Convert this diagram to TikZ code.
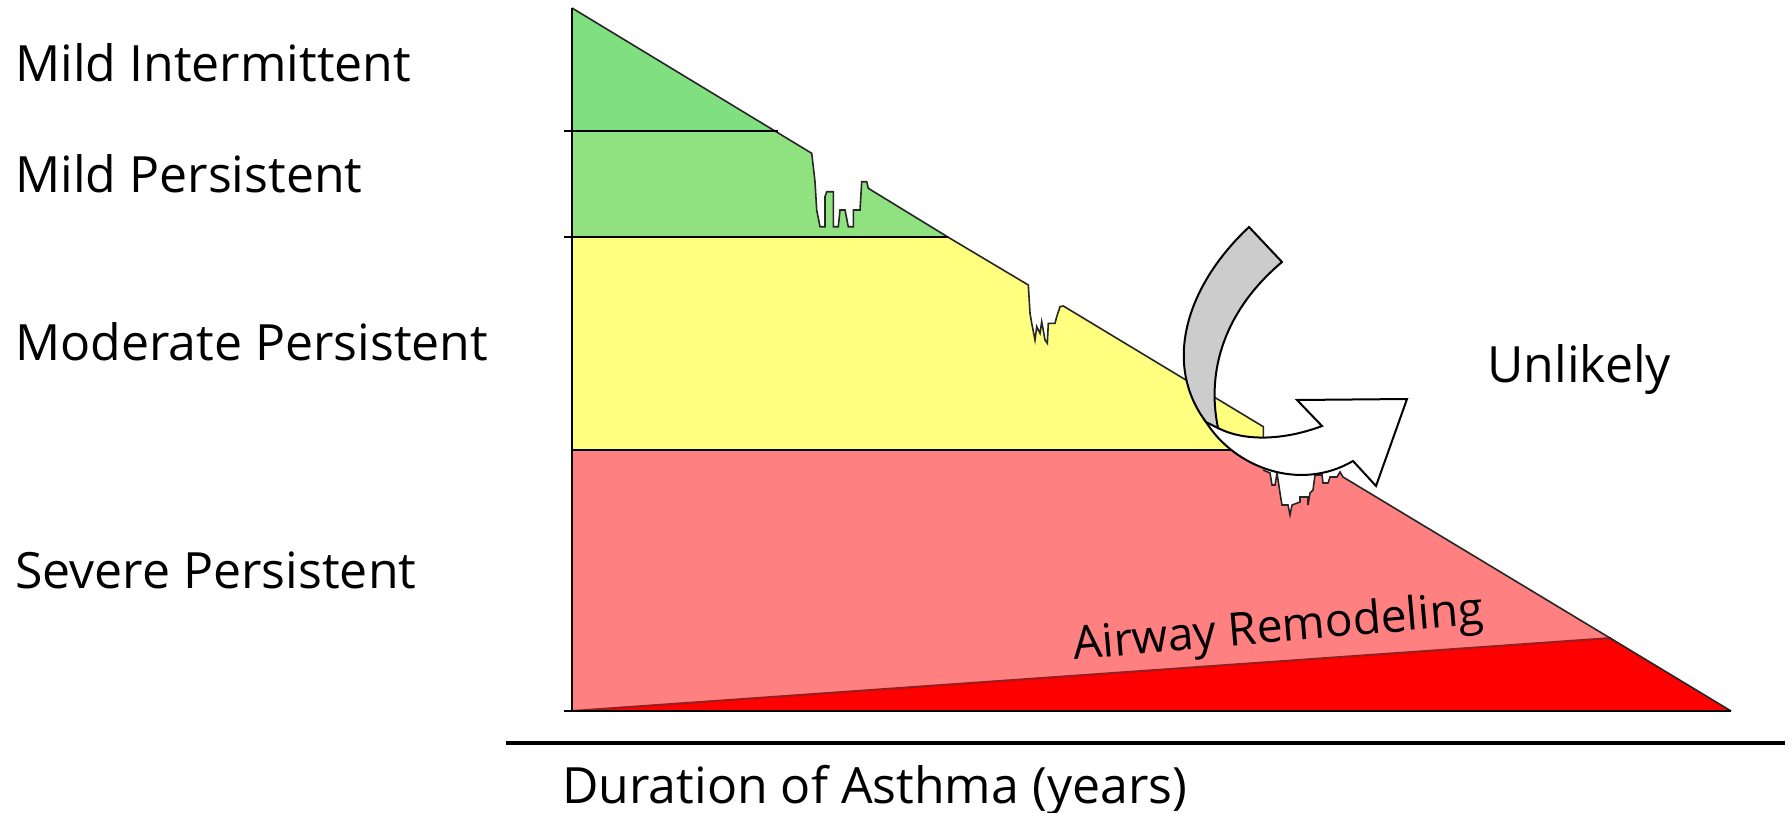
\documentclass[tikz,border=0pt]{standalone}
\usepackage{fontspec}
\setmainfont{Open Sans}
\definecolor{gA}{RGB}{128,224,128}
\definecolor{gB}{RGB}{144,226,128}
\definecolor{yel}{RGB}{255,255,128}
\definecolor{pinkR}{RGB}{255,128,128}
\definecolor{rd}{RGB}{255,0,0}
\definecolor{darkrd}{RGB}{150,30,30}
\definecolor{agray}{RGB}{204,204,204}
\begin{document}
\begin{tikzpicture}[x=0.5pt,y=-0.5pt,
  lbl/.style={anchor=base west,inner sep=0pt,font=\fontsize{25}{30}\selectfont},
  edge/.style={line width=0.8pt,black!85},
  hline/.style={line width=1pt,black},
  arrowpart/.style={draw=black,line width=1pt,line join=miter}]
\useasboundingbox (0,0) rectangle (1792,813);
% regions
\fill[gA] (572,8) -- (775,131) -- (572,131) -- cycle;
\fill[gB] (572,131) -- (775,131) -- (811.7,153.3) -- (813.3,166.7) -- (815,181.7) -- (816.7,210) -- (820,226.7) -- (825,226.7) -- (825,196.7) -- (826.7,191.7) -- (833.3,191.7) -- (833.3,226.7) -- (838.3,226.7) -- (840,210) -- (845,210) -- (848.3,226.7) -- (853.3,226.7) -- (853.3,210) -- (860,210) -- (861.7,181.7) -- (866.7,181.7) -- (868.3,188.3) -- (948.3,237.3) -- (572,237.3) -- cycle;
\fill[yel] (572,237.3) -- (948.3,237.3) -- (1028.3,285) -- (1030,313.3) -- (1031.7,323.3) -- (1035,340) -- (1036.7,326.7) -- (1040,333.3) -- (1041.7,321.7) -- (1045,340) -- (1047.3,343.3) -- (1048.3,323.3) -- (1055,323.3) -- (1056.7,316.7) -- (1060,306.7) -- (1063.3,306) -- (1263.3,426.7) -- (1263.3,450) -- (572,450) -- cycle;
\fill[pinkR] (572,450) -- (1263.3,450) -- (1263,470) -- (1270,473) -- (1272,485) -- (1275,485) -- (1277,473) -- (1280,493) -- (1282,505) -- (1288,505) -- (1290,515) -- (1292,505) -- (1300,502) -- (1300,497) -- (1308,497) -- (1308,505) -- (1310,493) -- (1313,490) -- (1315,475) -- (1322,475) -- (1323,483) -- (1328,483) -- (1330,477) -- (1337,477) -- (1340,472) -- (1343,477) -- (1731,711) -- (572,711) -- cycle;
\fill[rd] (572,711) -- (1611,638) -- (1731,711) -- cycle;
\draw[line width=1pt,darkrd] (572,711) -- (1611,638);
% top boundary
\draw[edge] (572,8) -- (811.7,153.3) -- (813.3,166.7) -- (815,181.7) -- (816.7,210) -- (820,226.7) -- (825,226.7) -- (825,196.7) -- (826.7,191.7) -- (833.3,191.7) -- (833.3,226.7) -- (838.3,226.7) -- (840,210) -- (845,210) -- (848.3,226.7) -- (853.3,226.7) -- (853.3,210) -- (860,210) -- (861.7,181.7) -- (866.7,181.7) -- (868.3,188.3) -- (948.3,237.3) -- (1028.3,285) -- (1030,313.3) -- (1031.7,323.3) -- (1035,340) -- (1036.7,326.7) -- (1040,333.3) -- (1041.7,321.7) -- (1045,340) -- (1047.3,343.3) -- (1048.3,323.3) -- (1055,323.3) -- (1056.7,316.7) -- (1060,306.7) -- (1063.3,306) -- (1263.3,426.7) -- (1263.3,450);
\draw[edge] (1263,470) -- (1270,473) -- (1272,485) -- (1275,485) -- (1277,473) -- (1280,493) -- (1282,505) -- (1288,505) -- (1290,515) -- (1292,505) -- (1300,502) -- (1300,497) -- (1308,497) -- (1308,505) -- (1310,493) -- (1313,490) -- (1315,475) -- (1322,475) -- (1323,483) -- (1328,483) -- (1330,477) -- (1337,477) -- (1340,472) -- (1343,477) -- (1731,711);
% horizontal lines and axis
\draw[hline] (564,131) -- (778,131);
\draw[hline] (564,237.3) -- (948.3,237.3);
\draw[hline] (572,450) -- (1263.3,450);
\draw[hline] (564,711) -- (1731,711);
\draw[hline] (572,8) -- (572,711);
\draw[line width=1.6pt] (506,743) -- (1785,743);
% curved arrow: white front part
\draw[arrowpart,fill=white] (1206,422) .. controls (1235,468) and (1300,492) .. (1353,461) -- (1376,486) -- (1407,399) -- (1297,400) -- (1322,426) .. controls (1285,440) and (1245,442) .. (1218,428) -- cycle;
% gray back part
\draw[arrowpart,fill=agray] (1249,227) .. controls (1185,287) and (1163,365) .. (1206,422) -- (1218,428) .. controls (1206,370) and (1225,310) .. (1282,262) -- cycle;
% labels
\node[lbl] (mi) at (15,82) {Mild Intermittent};
\node[lbl] (mp) at (15,192) {Mild Persistent};
\node[lbl] (mod) at (15,360) {Moderate Persistent};
\node[lbl] (sev) at (15,588) {Severe Persistent};
\node[lbl] (unl) at (1487,382) {Unlikely};
\node[lbl] (dur) at (562,803) {Duration of Asthma (years)};
\node[lbl,font=\fontsize{23}{26}\selectfont,rotate=5] (awr) at (1074,660) {Airway Remodeling};
\end{tikzpicture}
\end{document}
